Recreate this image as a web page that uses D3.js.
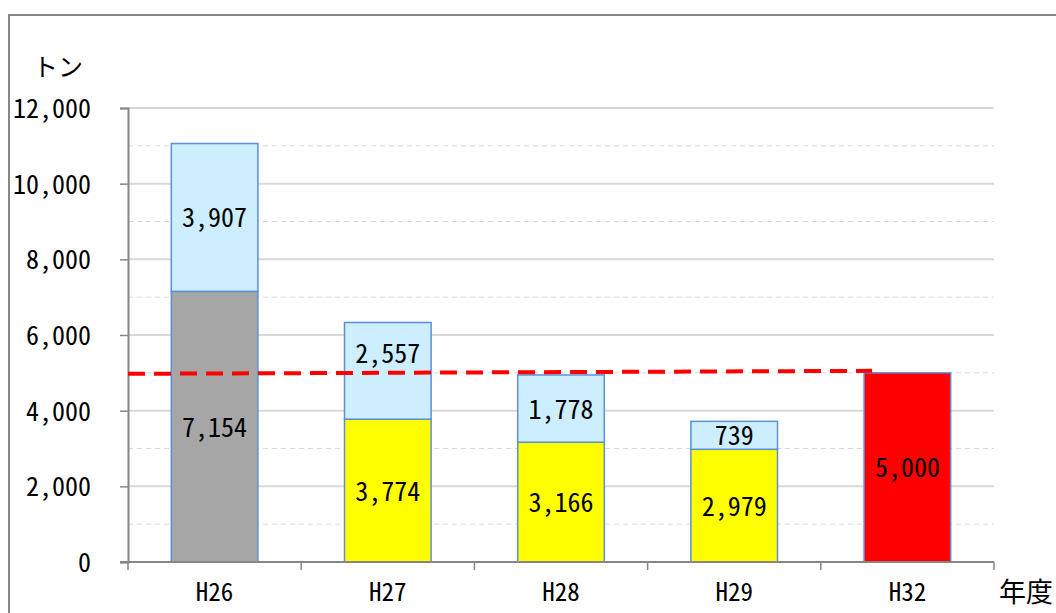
<!DOCTYPE html>
<html>
<head>
<meta charset="utf-8">
<script src="https://cdn.jsdelivr.net/npm/d3@7"></script>
<style>
	body { margin: 0; background: #fff; }
	text { font-family: "Noto Sans Mono CJK JP", "Noto Sans CJK JP", monospace; font-weight: 300; fill: #000; }
</style>
</head>
<body>
<svg id="chart" width="1056" height="613"></svg>
<script>
// chart values
var categories = ["H26", "H27", "H28", "H29", "H32"];
var baseValues = [7154, 3774, 3166, 2979, 5000];
var reductionValues = [3907, 2557, 1778, 739, 0];
var baseColors = ["#a6a6a6", "#ffff00", "#ffff00", "#ffff00", "#ff0000"];
var yTicks = [0, 2000, 4000, 6000, 8000, 10000, 12000];
var minorTicks = [1000, 3000, 5000, 7000, 9000, 11000];
var targetValue = 5000;

var svg = d3.select("#chart");
var fmt = d3.format(",");

var x = d3.scaleBand()
	.domain(categories)
	.range([128, 994])
	.paddingInner(0.5)
	.paddingOuter(0.25);

var y = d3.scaleLinear()
	.domain([0, 12000])
	.range([562, 108]);

// outer frame (only top and left edges show)
svg.append("path")
	.attr("d", "M9,613V15H1056")
	.attr("fill", "none")
	.attr("stroke", "#878787")
	.attr("stroke-width", 2);

// grid lines
svg.selectAll("line.minor")
	.data(minorTicks)
	.enter().append("line")
	.attr("class", "minor")
	.attr("x1", 128).attr("x2", 994)
	.attr("y1", function (d) { return y(d); })
	.attr("y2", function (d) { return y(d); })
	.attr("stroke", "#d9d9d9")
	.attr("stroke-width", 1)
	.attr("stroke-dasharray", "5,4");

svg.selectAll("line.major")
	.data(yTicks.slice(1))
	.enter().append("line")
	.attr("class", "major")
	.attr("x1", 128).attr("x2", 994)
	.attr("y1", function (d) { return y(d); })
	.attr("y2", function (d) { return y(d); })
	.attr("stroke", "#d9d9d9")
	.attr("stroke-width", 2);

// stacked bars
var rows = categories.map(function (c, i) {
	return { cat: c, base: baseValues[i], red: reductionValues[i], color: baseColors[i] };
});

var bars = svg.selectAll("g.bar")
	.data(rows)
	.enter().append("g")
	.attr("class", "bar");

bars.append("rect")
	.attr("x", function (d) { return x(d.cat); })
	.attr("width", x.bandwidth())
	.attr("y", function (d) { return y(d.base); })
	.attr("height", function (d) { return y(0) - y(d.base); })
	.attr("fill", function (d) { return d.color; })
	.attr("stroke", "#5b8fd6")
	.attr("stroke-width", 1.5);

bars.filter(function (d) { return d.red > 0; })
	.append("rect")
	.attr("x", function (d) { return x(d.cat); })
	.attr("width", x.bandwidth())
	.attr("y", function (d) { return y(d.base + d.red); })
	.attr("height", function (d) { return y(d.base) - y(d.base + d.red); })
	.attr("fill", "#cceeff")
	.attr("stroke", "#5b8fd6")
	.attr("stroke-width", 1.5);

// axes
var yAxis = svg.append("g")
	.attr("transform", "translate(128,0)")
	.call(d3.axisLeft(y).tickValues(yTicks).tickSize(8).tickFormat(""));

var xAxis = svg.append("g")
	.attr("transform", "translate(0," + y(0) + ")")
	.call(d3.axisBottom(x).tickSize(0).tickFormat(""));

xAxis.selectAll("line.sep")
	.data(d3.range(categories.length + 1))
	.enter().append("line")
	.attr("class", "sep")
	.attr("x1", function (i) { return x.range()[0] + i * x.step(); })
	.attr("x2", function (i) { return x.range()[0] + i * x.step(); })
	.attr("y1", 0).attr("y2", 8);

[yAxis, xAxis].forEach(function (g) {
	g.select(".domain").attr("stroke", "#868686").attr("stroke-width", 2);
	g.selectAll("line").attr("stroke", "#868686").attr("stroke-width", 1.5);
});
xAxis.select(".domain").attr("d", "M120,0H994");

// y tick labels
svg.selectAll("text.ylab")
	.data(yTicks)
	.enter().append("text")
	.attr("class", "ylab")
	.attr("text-anchor", "end")
	.attr("x", 91)
	.attr("y", function (d) { return y(d) + 10; })
	.style("font-size", "26px")
	.text(function (d) { return fmt(d); });

// category labels
svg.selectAll("text.xlab")
	.data(categories)
	.enter().append("text")
	.attr("class", "xlab")
	.attr("text-anchor", "middle")
	.attr("x", function (d) { return x(d) + x.bandwidth() / 2; })
	.attr("y", 601)
	.style("font-size", "25px")
	.text(function (d) { return d; });

// unit titles
svg.append("text")
	.attr("x", 33).attr("y", 76)
	.style("font-size", "25px")
	.text("トン");

svg.append("text")
	.attr("x", 999).attr("y", 602)
	.style("font-size", "27px")
	.text("年度");

// target line
var targetY = y(targetValue);
svg.append("line")
	.attr("x1", x.range()[0])
	.attr("x2", x("H32") + 8)
	.attr("y1", targetY + 1)
	.attr("y2", targetY - 2)
	.attr("stroke", "#ff0000")
	.attr("stroke-width", 4)
	.attr("stroke-dasharray", "17,9");

// value labels
function addLabel(cx, cy, v)
{
	svg.append("text")
		.attr("text-anchor", "middle")
		.attr("x", cx)
		.attr("y", cy + 10)
		.style("font-size", "26px")
		.text(fmt(v));
}

rows.forEach(function (d) {
	var cx = x(d.cat) + x.bandwidth() / 2;
	addLabel(cx, (y(0) + y(d.base)) / 2, d.base);
	if (d.red > 0)
	{
		var cy = (y(d.base) + y(d.base + d.red)) / 2;
		// keep the label clear of the target line
		if (Math.abs(cy - targetY) < 14)
			cy = targetY - 20;
		addLabel(cx, cy, d.red);
	}
});
</script>
</body>
</html>
